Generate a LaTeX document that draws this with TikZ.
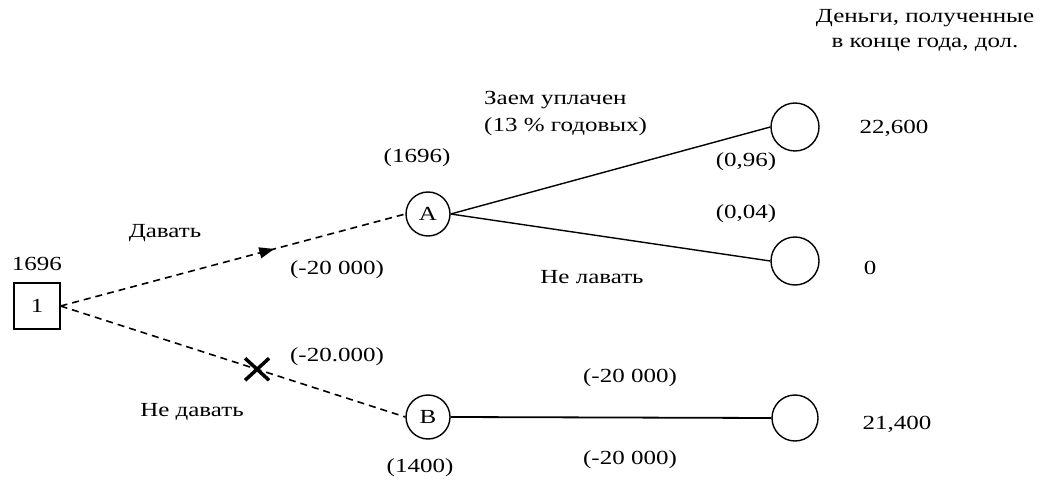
\documentclass[tikz,border=0pt]{standalone}
\usepackage{fontspec}
\setmainfont[FakeStretch=1.25]{Liberation Serif}
\usetikzlibrary{decorations.markings,arrows.meta,calc}
\begin{document}
\begin{tikzpicture}[x=1pt,y=-1pt,
  lbl/.style={inner sep=0pt,font=\fontsize{20}{24}\selectfont},
  chance/.style={circle,draw,line width=1.4pt,minimum size=44pt,inner sep=0pt,font=\fontsize{20}{24}\selectfont},
  endnode/.style={circle,draw,line width=1.4pt,minimum size=48pt,inner sep=0pt},
  decision/.style={rectangle,draw,line width=1.1pt,minimum size=46pt,inner sep=0pt,font=\fontsize{20}{24}\selectfont},
  dline/.style={line width=1.6pt,dash pattern=on 7pt off 5pt},
  sline/.style={line width=1.4pt},
  midarrow/.style={postaction={decorate},decoration={markings,mark=at position #1 with {\arrow{Triangle[length=15pt,width=11pt]}}}}
]
\useasboundingbox (0,0) rectangle (1042,481);
\node[decision] (d1) at (37,306) {1};
\node[chance] (A) at (428,214) {A};
\node[chance] (B) at (428,417) {B};
\node[endnode] (E1) at (795,127) {};
\node[endnode] (E2) at (795,261) {};
\node[endnode,minimum size=46pt] (E3) at (795,418) {};

\draw[dline,midarrow=0.62] (d1.east) -- (A.west);
\draw[dline] (d1.east) -- coordinate[pos=0.57] (xm) (B.west);
\draw[line width=3.5pt] ($(xm)+(-12,-11)$) -- ($(xm)+(12,11)$) ($(xm)+(-12,11)$) -- ($(xm)+(12,-11)$);
\draw[sline] (A.east) -- (E1.west);
\draw[sline] (A.east) -- (E2.west);
\draw[line width=1.8pt] (B.east) -- (E3.west);

\node[lbl] (t1696) at (37,264) {1696};
\node[lbl] (tdav) at (165,233) {Давать};
\node[lbl] (tndav) at (192,412) {Не давать};
\node[lbl] (tm1) at (337,270) {(-20 000)};
\node[lbl] (tm2) at (337,357) {(-20.000)};
\node[lbl] (tA) at (417,158) {(1696)};
\node[lbl] (tB) at (420,468) {(1400)};
\node[lbl,anchor=west] (tz1) at (484,100) {Заем уплачен};
\node[lbl,anchor=west] (tz2) at (484,127) {(13 \% годовых)};
\node[lbl] (p1) at (746,162) {(0,96)};
\node[lbl] (p2) at (746,214) {(0,04)};
\node[lbl] (tnl) at (592,277) {Не лавать};
\node[lbl] (tb1) at (630,378) {(-20 000)};
\node[lbl] (tb2) at (630,460) {(-20 000)};
\node[lbl] (h1) at (925,18) {Деньги, полученные};
\node[lbl] (h2) at (925,45) {в конце года, дол.};
\node[lbl] (v1) at (894,128) {22,600};
\node[lbl] (v2) at (870,268) {0};
\node[lbl] (v3) at (897,424) {21,400};
\end{tikzpicture}
\end{document}
